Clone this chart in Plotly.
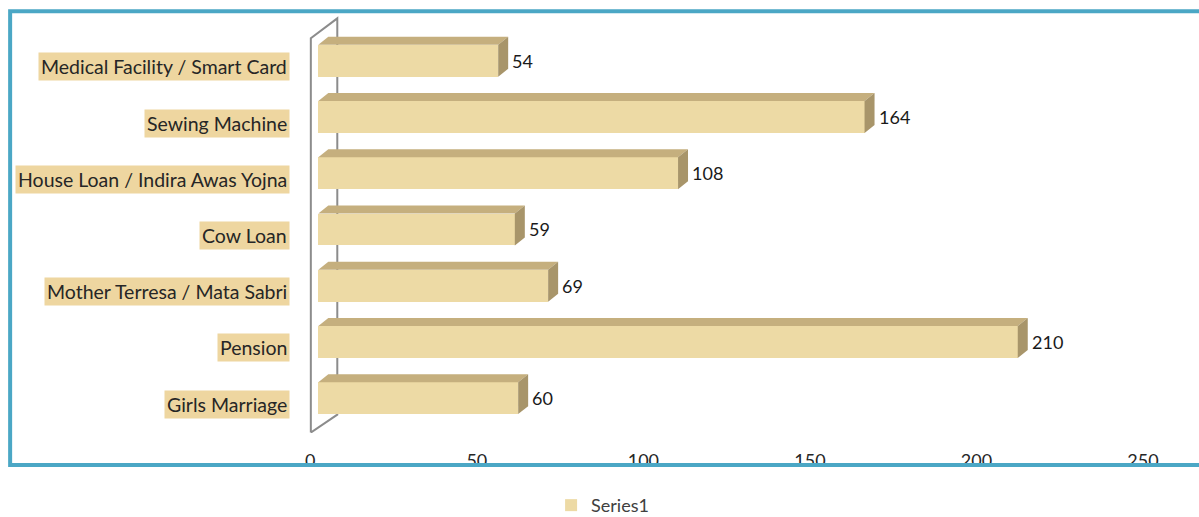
import plotly.graph_objects as go

# ---------------- data ----------------
categories = ["Girls Marriage", "Pension", "Mother Terresa / Mata Sabri", "Cow Loan",
              "House Loan / Indira Awas Yojna", "Sewing Machine", "Medical Facility / Smart Card"]
values = [60, 210, 69, 59, 108, 164, 54]
x_ticks = [0, 50, 100, 150, 200, 250]
series_name = "Series1"

# ---------------- layout geometry (pixels) ----------------
W, H = 1199, 517
PX_PER_UNIT = 3.334          # x scale
X0_PX = 310                  # pixel of value 0 on the tick axis
XMIN, XMAX = -1, 250
L = X0_PX + XMIN * PX_PER_UNIT
R = W - (X0_PX + XMAX * PX_PER_UNIT)
ROW_PX = 56.33               # pixel spacing between categories
Y0_PX = 398.5                # pixel of category index 0
YMIN, YMAX = -0.62, 6.85
T = Y0_PX - YMAX * ROW_PX
B = H - (Y0_PX - YMIN * ROW_PX)
PW = W - L - R
PH = H - T - B

BAR_SHIFT_PX = 8             # bars sit slightly deeper than the floor front
DX_PX, DY_PX = 10, 8         # 3D depth of the bars
BAR_H_PX = 32

def px_to_paper_x(px):
    return (px - L) / PW

def px_to_paper_y(py):
    return (H - B - py) / PH

dxu = DX_PX / PX_PER_UNIT
dyu = DY_PX / ROW_PX
hh = BAR_H_PX / 2 / ROW_PX
shift_u = BAR_SHIFT_PX / PX_PER_UNIT

FRONT = "#EDDAA5"
TOP = "#C5AF7E"
SIDE = "#A8956A"
LABEL_BG = "#EED6A0"
TEXT = "#262626"
FONT = "Lato"

idx = list(range(len(categories)))

fig = go.Figure()
fig.add_trace(go.Bar(
    x=values, y=idx, orientation="h", xaxis="x2", yaxis="y",
    width=2 * hh, marker=dict(color=FRONT, line=dict(width=0)),
    name=series_name, showlegend=True, hoverinfo="x+text",
    hovertext=categories,
))

shapes = []
# back wall (drawn behind bars)
wall_dx = 27 / PX_PER_UNIT
wall_top_front = (Y0_PX - 38) / ROW_PX
wall_top_back = (Y0_PX - 18) / ROW_PX
wall_bot_front = (Y0_PX - 433) / ROW_PX
wall_bot_back = (Y0_PX - 415) / ROW_PX
wall_path = (f"M 0.15,{wall_bot_front} L 0.15,{wall_top_front} L {wall_dx},{wall_top_back} "
             f"L {wall_dx},{wall_bot_back} L 0.15,{wall_bot_front}")
shapes.append(dict(type="path", xref="x", yref="y", path=wall_path,
                   line=dict(color="#8C8C8C", width=2), layer="below"))

for i, v in zip(idx, values):
    top = (f"M 0,{i + hh} L {v},{i + hh} L {v + dxu},{i + hh + dyu} "
           f"L {dxu},{i + hh + dyu} Z")
    side = (f"M {v},{i - hh} L {v + dxu},{i - hh + dyu} L {v + dxu},{i + hh + dyu} "
            f"L {v},{i + hh} Z")
    shapes.append(dict(type="path", xref="x2", yref="y", path=top,
                       fillcolor=TOP, line=dict(width=0), layer="above"))
    shapes.append(dict(type="path", xref="x2", yref="y", path=side,
                       fillcolor=SIDE, line=dict(width=0), layer="above"))

# white cover below the chart frame (frame crops the tick labels)
shapes.append(dict(type="rect", xref="paper", yref="paper",
                   x0=px_to_paper_x(0), x1=px_to_paper_x(W),
                   y0=px_to_paper_y(467.5), y1=px_to_paper_y(490),
                   fillcolor="white", line=dict(width=0), layer="above"))
# blue chart frame
shapes.append(dict(type="rect", xref="paper", yref="paper",
                   x0=px_to_paper_x(9.5), x1=px_to_paper_x(W + 5),
                   y0=px_to_paper_y(465.5), y1=px_to_paper_y(11),
                   line=dict(color="#4BA7C5", width=4), layer="above"))

annotations = []
for i, c in zip(idx, categories):
    annotations.append(dict(
        text=c, xref="paper", yref="y", x=px_to_paper_x(290), y=i,
        xanchor="right", yanchor="middle", yshift=-6, showarrow=False,
        bgcolor=LABEL_BG, borderpad=2,
        font=dict(family=FONT, size=19.5, color=TEXT),
    ))
for i, v in zip(idx, values):
    annotations.append(dict(
        text=str(v), xref="x2", yref="y", x=v, y=i,
        xanchor="left", yanchor="middle", xshift=DX_PX + 2, showarrow=False,
        font=dict(family=FONT, size=18, color="#1a1a1a"),
    ))

fig.update_layout(
    width=W, height=H,
    margin=dict(l=L, r=R, t=T, b=B, pad=0, autoexpand=False),
    paper_bgcolor="white", plot_bgcolor="rgba(0,0,0,0)",
    font=dict(family=FONT, size=17, color=TEXT),
    xaxis=dict(range=[XMIN, XMAX], tickvals=x_ticks, ticktext=[str(t) for t in x_ticks],
               showgrid=False, zeroline=False, showline=False, ticks="",
               ticklabelstandoff=15, tickfont=dict(family=FONT, size=18, color="#262626")),
    xaxis2=dict(range=[XMIN - shift_u, XMAX - shift_u], overlaying="x", visible=False),
    yaxis=dict(range=[YMIN, YMAX], visible=False),
    legend=dict(orientation="h", x=px_to_paper_x(551), xanchor="left",
                y=px_to_paper_y(506), yanchor="middle",
                font=dict(family=FONT, size=18, color="#404040"),
                itemwidth=30),
    shapes=shapes, annotations=annotations,
    bargap=0,
)

fig.write_html("out.html")
